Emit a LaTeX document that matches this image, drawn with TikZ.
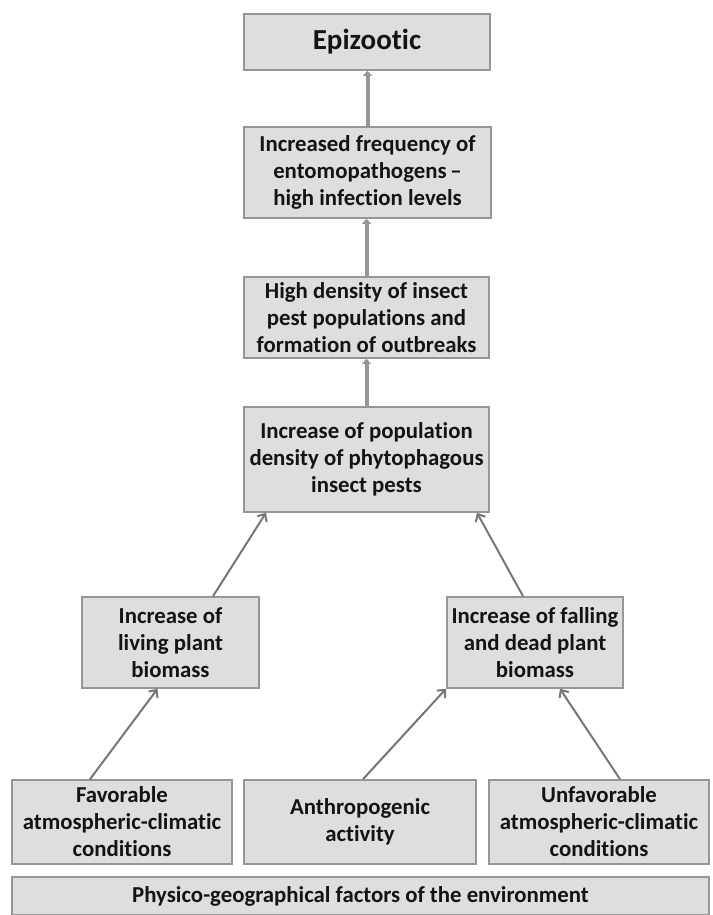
\documentclass[tikz,border=0pt]{standalone}
\usepackage{fontspec}
\setmainfont{Carlito}[Ligatures={TeX,NoCommon}]
\usetikzlibrary{arrows.meta}
\definecolor{boxfill}{RGB}{222,222,222}
\definecolor{boxline}{RGB}{150,150,150}
\definecolor{arrowgray}{RGB}{150,150,150}
\definecolor{slantgray}{RGB}{118,118,118}
\definecolor{textgray}{RGB}{20,20,20}

\begin{document}
\begin{tikzpicture}[x=1pt,y=-1pt,
        box/.style={draw=boxline,fill=boxfill,line width=1.6pt,rectangle,
          inner sep=0pt,align=center,text=textgray,
          font=\bfseries\fontsize{22.8}{27}\selectfont},
        uparrow/.style={draw=arrowgray,line width=4pt,
          -{Triangle[width=9pt,length=5pt]}},
        slantarrow/.style={draw=slantgray,line width=2pt,
          -{Straight Barb[width=11pt,length=6pt,line width=2pt]}}]
  \useasboundingbox (0,0) rectangle (712,915);

  \node[box,minimum width=246,minimum height=56,
        font=\bfseries\fontsize{29}{32}\selectfont] (epi) at (367,42) {Epizootic};
  \node[box,minimum width=247,minimum height=91] (freq) at (367.5,172.5)
    {Increased frequency of\\entomopathogens\,–\\high infection levels};
  \node[box,minimum width=245,minimum height=81] (dens) at (366.5,317.5)
    {High density of insect\\pest populations and\\formation of outbreaks};
  \node[box,minimum width=245,minimum height=105] (pop) at (366.5,459.5)
    {Increase of population\\density of phytophagous\\insect pests};
  \node[box,minimum width=177,minimum height=91] (liv) at (170.5,642.5)
    {Increase of\\living plant\\biomass};
  \node[box,minimum width=176,minimum height=91] (dead) at (535,642.5)
    {Increase of falling\\and dead plant\\biomass};
  \node[box,minimum width=220,minimum height=84] (fav) at (122,822)
    {Favorable\\atmospheric-climatic\\conditions};
  \node[box,minimum width=232,minimum height=84] (anth) at (360,822)
    {Anthropogenic\\activity};
  \node[box,minimum width=220,minimum height=84] (unfav) at (599,822)
    {Unfavorable\\atmospheric-climatic\\conditions};
  \node[box,minimum width=697,minimum height=38] (phys) at (360.5,896)
    {Physico-geographical factors of the environment};

  \draw[uparrow] (freq.north) -- (freq.north |- epi.south);
  \draw[uparrow] (dens.north) -- (dens.north |- freq.south);
  \draw[uparrow] (pop.north) -- (pop.north |- dens.south);

  \draw[slantarrow] ([xshift=42.5pt]liv.north) -- ([xshift=-100.5pt]pop.south);
  \draw[slantarrow] ([xshift=-12pt]dead.north) -- ([xshift=110.5pt]pop.south);
  \draw[slantarrow] ([xshift=-32pt]fav.north) -- ([xshift=-13pt]liv.south);
  \draw[slantarrow] ([xshift=3pt]anth.north) -- ([xshift=-89pt]dead.south);
  \draw[slantarrow] ([xshift=21pt]unfav.north) -- ([xshift=25pt]dead.south);
\end{tikzpicture}
\end{document}
